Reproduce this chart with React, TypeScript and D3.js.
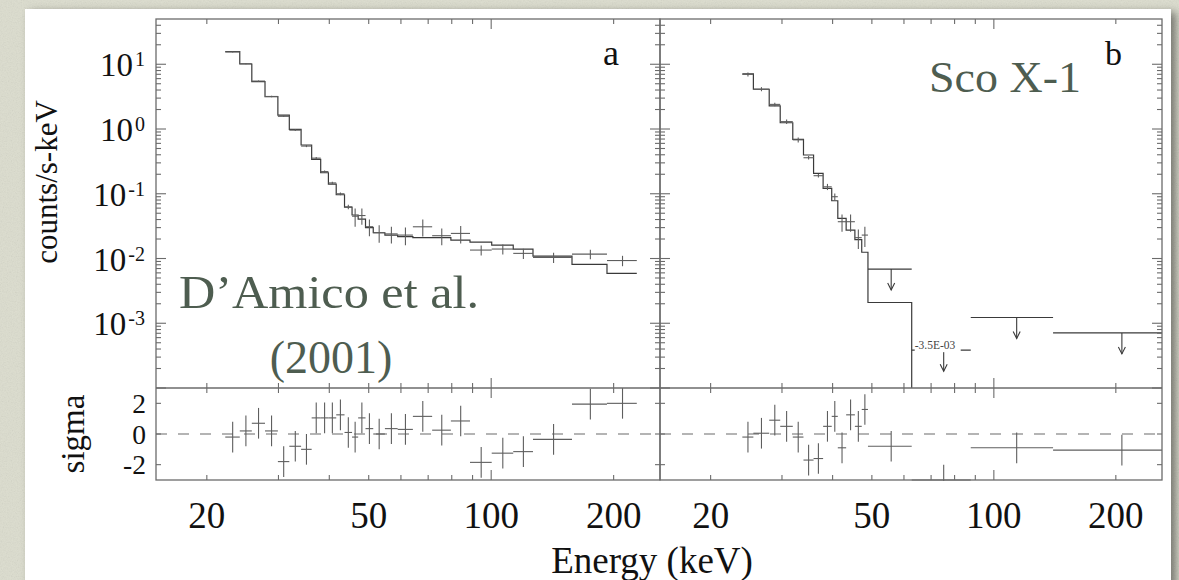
import React from "react";
import * as d3 from "d3";

// ---------------- Panel a (D'Amico et al. 2001) ----------------
const binEdgesA = [22.2, 24.1, 25.8, 27.8, 29.9, 31.9, 34.1, 36.2, 38.1, 39.8, 41.6, 43.6, 45.5, 47.1, 49.1, 51.3, 54.8, 58.9, 64.2, 71.6, 79.6, 88.7, 100.3, 113.3, 126.7, 158, 192.6, 228];
const modelA = [15.7, 10.1, 5.38, 3.16, 1.64, 0.99, 0.566, 0.34, 0.211, 0.141, 0.0966, 0.062, 0.047, 0.0406, 0.03, 0.025, 0.023, 0.0218, 0.021, 0.021, 0.0192, 0.0179, 0.0161, 0.014, 0.0109, 0.0081, 0.0059];
const countsA = [15.5, 10.2, 5.5, 3.18, 1.57, 0.96, 0.545, 0.355, 0.22, 0.147, 0.1, 0.0625, 0.045, 0.0461, 0.031, 0.025, 0.024, 0.023, 0.0309, 0.0225, 0.0244, 0.0135, 0.014, 0.012, 0.0104, 0.0117, 0.0093];
const errorsA = [0.3, 0.2, 0.12, 0.08, 0.04, 0.03, 0.02, 0.014, 0.009, 0.006, 0.005, 0.005, 0.014, 0.013, 0.009, 0.0075, 0.007, 0.007, 0.009, 0.0065, 0.0073, 0.0024, 0.0025, 0.0022, 0.0019, 0.002, 0.0017];
const sigmaA = [-0.2, 0.2, 0.7, 0.2, -1.8, -0.8, -1.0, 1.05, 1.05, 1.05, 1.25, 0.1, -0.2, 1.05, 0.35, 0.0, 0.35, 0.3, 1.15, 0.25, 0.85, -1.85, -1.25, -1.15, -0.35, 1.95, 2.0];

// ---------------- Panel b (Sco X-1) ----------------
const binEdgesB = [23.95, 25.5, 27.9, 29.7, 31.9, 33.9, 35.9, 37.9, 39.8, 41.2, 43.2, 45.4, 47.2, 48.9, 62.7, 87.7, 140, 274];
const modelB = [7.08, 4.11, 2.27, 1.25, 0.693, 0.397, 0.207, 0.121, 0.078, 0.0417, 0.0275, 0.0195, 0.0125, 0.00209, 0.00001, 0.00001, 0.00001];
const countsB = [6.98, 4.13, 2.4, 1.3, 0.68, 0.36, 0.19, 0.128, 0.09, 0.037, 0.037, 0.021, 0.023];
const errorsB = [0.5, 0.3, 0.15, 0.1, 0.06, 0.022, 0.012, 0.014, 0.011, 0.011, 0.011, 0.007, 0.008];
const upperLimitsB = [0.00686, 0.000384, 0.00123, 0.00071];
const upperLimitNotesB = ["", "-3.5E-03", "", ""];
const sigmaB = [-0.2, 0.05, 0.9, 0.5, -0.2, -1.7, -1.6, 0.5, 1.15, -0.9, 1.25, 0.5, 1.6, -0.8, -3.0, -0.9, -1.05];

// ---------------- Axes ----------------
const energyDomain = [15, 260];
const countDomain = [1e-4, 50];
const sigmaDomain = [-3, 3];
const energyTicks = [20, 30, 40, 50, 60, 70, 80, 90, 100, 200];
const energyMajorTicks = [100];
const energyTickLabels = [20, 50, 100, 200];
const decadeExponents = [1, 0, -1, -2, -3];
const sigmaTicks = [2, 0, -2];
const panelLetters = ["a", "b"];
const annotationA = ["D\u2019Amico et al.", "(2001)"];
const annotationB = "Sco X-1";
const yTitle = "counts/s-keV";
const residTitle = "sigma";
const xTitle = "Energy (keV)";

const SERIF = "'Liberation Serif', 'Times New Roman', Times, serif";
const FRAME = "#6b6b6b";
const MODEL = "#3a3a3a";
const DATA = "#5e5e5e";
const ANNOT = "#4e5d50";

export default function App() {
  const W = 1179, H = 580;
  const top = 19, mid = 388, bot = 480;
  const y = d3.scaleLog().domain(countDomain).range([mid, top]);
  const yr = d3.scaleLinear().domain(sigmaDomain).range([bot, mid]);

  const minorY: number[] = [];
  for (let k = -4; k <= 1; k++) for (let m = 2; m <= 9; m++) {
    const v = m * Math.pow(10, k);
    if (v > countDomain[0] && v < countDomain[1]) minorY.push(v);
  }
  const majorY = [1e-4, 1e-3, 1e-2, 1e-1, 1, 10];

  const panels = [
    { key: "a", x0: 156, x1: 660, edges: binEdgesA, model: modelA, counts: countsA, errors: errorsA, uls: [] as number[], notes: [] as string[], sigma: sigmaA },
    { key: "b", x0: 660, x1: 1162, edges: binEdgesB, model: modelB, counts: countsB, errors: errorsB, uls: upperLimitsB, notes: upperLimitNotesB, sigma: sigmaB },
  ];

  const renderPanel = (p: typeof panels[0], pi: number) => {
    const x = d3.scaleLog().domain(energyDomain).range([p.x0, p.x1]);
    const n = p.model.length;
    const pts: [number, number][] = p.model.map((m, i) => [p.edges[i], m]);
    pts.push([p.edges[n], p.model[n - 1]]);
    const step = d3.line<[number, number]>().x(d => x(d[0])).y(d => y(d[1])).curve(d3.curveStepAfter)(pts) || "";
    const center = (i: number) => x((p.edges[i] + p.edges[i + 1]) / 2);
    const tickEls: JSX.Element[] = [];
    energyTicks.forEach((t, i) => {
      const L = energyMajorTicks.includes(t) ? 10 : 5;
      const xx = x(t);
      tickEls.push(<line key={`xt${i}a`} x1={xx} x2={xx} y1={top} y2={top + L} />);
      tickEls.push(<line key={`xt${i}b`} x1={xx} x2={xx} y1={mid} y2={mid - L} />);
      tickEls.push(<line key={`xt${i}c`} x1={xx} x2={xx} y1={mid} y2={mid + L} />);
      tickEls.push(<line key={`xt${i}d`} x1={xx} x2={xx} y1={bot} y2={bot - L} />);
    });
    majorY.concat(minorY).forEach((v, i) => {
      const L = majorY.includes(v) ? 10 : 5;
      const yy = y(v);
      tickEls.push(<line key={`yt${i}a`} x1={p.x0} x2={p.x0 + L} y1={yy} y2={yy} />);
      tickEls.push(<line key={`yt${i}b`} x1={p.x1} x2={p.x1 - L} y1={yy} y2={yy} />);
    });
    sigmaTicks.forEach((v, i) => {
      const yy = yr(v);
      tickEls.push(<line key={`st${i}a`} x1={p.x0} x2={p.x0 + 5} y1={yy} y2={yy} />);
      tickEls.push(<line key={`st${i}b`} x1={p.x1} x2={p.x1 - 5} y1={yy} y2={yy} />);
    });
    const nd = p.counts.length;
    return (
      <g key={p.key}>
        <defs>
          <clipPath id={`clipM${pi}`}><rect x={p.x0} y={top} width={p.x1 - p.x0} height={mid - top} /></clipPath>
          <clipPath id={`clipR${pi}`}><rect x={p.x0} y={mid} width={p.x1 - p.x0} height={bot - mid + 1} /></clipPath>
        </defs>
        <line x1={p.x0} x2={p.x1} y1={yr(0)} y2={yr(0)} stroke={FRAME} strokeWidth={1.1} strokeDasharray="11,11" />
        <g clipPath={`url(#clipM${pi})`}>
          <path d={step} fill="none" stroke={MODEL} strokeWidth={1.2} />
          {p.counts.map((c, i) => (
            <g key={`d${i}`} stroke={DATA} strokeWidth={1.1}>
              <line x1={x(p.edges[i])} x2={x(p.edges[i + 1])} y1={y(c)} y2={y(c)} />
              <line x1={center(i)} x2={center(i)} y1={y(Math.max(c - p.errors[i], 1e-6))} y2={y(c + p.errors[i])} />
            </g>
          ))}
          {p.uls.map((u, j) => {
            const i = nd + j;
            const xa = x(p.edges[i]), xb = x(p.edges[i + 1]);
            const xc = center(i), yu = y(u);
            return (
              <g key={`ul${j}`} stroke={MODEL} strokeWidth={1.1} fill="none">
                <line x1={xa} x2={xb} y1={yu} y2={yu} />
                <line x1={xc} x2={xc} y1={yu} y2={yu + 21} />
                <polyline points={`${xc - 3.5},${yu + 14} ${xc},${yu + 21} ${xc + 3.5},${yu + 14}`} />
                {p.notes[j] ? (
                  <g>
                    <rect x={xa + 3} y={yu - 11} width={46} height={13} fill="#fff" stroke="none" />
                    <text x={xa + 3} y={yu - 1} fontFamily={SERIF} fontSize={11.5} fill="#444" stroke="none">{p.notes[j]}</text>
                  </g>
                ) : null}
              </g>
            );
          })}
        </g>
        <g clipPath={`url(#clipR${pi})`}>
          {p.sigma.map((s, i) => (
            <g key={`r${i}`} stroke={DATA} strokeWidth={1.1}>
              <line x1={x(p.edges[i])} x2={x(p.edges[i + 1])} y1={yr(s)} y2={yr(s)} />
              <line x1={center(i)} x2={center(i)} y1={yr(s - 1)} y2={yr(s + 1)} />
            </g>
          ))}
        </g>
        <g stroke={FRAME} strokeWidth={1.1}>{tickEls}</g>
        <rect x={p.x0} y={top} width={p.x1 - p.x0} height={bot - top} fill="none" stroke={FRAME} strokeWidth={1.3} />
        <line x1={p.x0} x2={p.x1} y1={mid} y2={mid} stroke={FRAME} strokeWidth={1.3} />
        {energyTickLabels.map(t => (
          <text key={`xl${t}`} x={x(t)} y={528} textAnchor="middle" fontFamily={SERIF} fontSize={37} fill="#111">{t}</text>
        ))}
      </g>
    );
  };

  return (
    <svg width={W} height={H} style={{ position: "absolute", left: 0, top: 0 }} xmlns="http://www.w3.org/2000/svg">
      <defs>
        <filter id="noise" x="0" y="0" width="100%" height="100%">
          <feTurbulence type="fractalNoise" baseFrequency="0.8" numOctaves={2} seed={4} />
          <feColorMatrix type="saturate" values="0" />
          <feComponentTransfer>
            <feFuncA type="table" tableValues="0 0.2" />
          </feComponentTransfer>
        </filter>
        <filter id="shadow" x="-5%" y="-5%" width="110%" height="110%">
          <feDropShadow dx={5} dy={3} stdDeviation={4} floodColor="#000" floodOpacity={0.45} />
        </filter>
      </defs>
      <rect x={0} y={0} width={W} height={H} fill="#dcddce" />
      <rect x={0} y={0} width={W} height={H} filter="url(#noise)" />
      <rect x={25} y={9} width={1146} height={640} fill="#fff" filter="url(#shadow)" />
      {panels.map(renderPanel)}
      {decadeExponents.map(k => (
        <text key={`yl${k}`} x={145} y={y(Math.pow(10, k)) + 12} textAnchor="end" fontFamily={SERIF} fontSize={33} fill="#111">
          10<tspan fontSize={20} dx={2} dy={-10}>{k}</tspan>
        </text>
      ))}
      {sigmaTicks.map(v => (
        <text key={`sl${v}`} x={146} y={yr(v) + 9.5} textAnchor="end" fontFamily={SERIF} fontSize={27.5} fill="#111">{v}</text>
      ))}
      <text transform="translate(57,182) rotate(-90)" textAnchor="middle" fontFamily={SERIF} fontSize={31} fill="#111">{yTitle}</text>
      <text transform="translate(84,434) rotate(-90)" textAnchor="middle" fontFamily={SERIF} fontSize={33} fill="#111">{residTitle}</text>
      <text x={652} y={573} textAnchor="middle" fontFamily={SERIF} fontSize={37} fill="#111">{xTitle}</text>
      <text x={603} y={65} fontFamily={SERIF} fontSize={36} fill="#111">{panelLetters[0]}</text>
      <text x={1105} y={65} fontFamily={SERIF} fontSize={34} fill="#111">{panelLetters[1]}</text>
      <text x={179} y={308} fontFamily={SERIF} fontSize={46} fill={ANNOT} textLength={300} lengthAdjust="spacingAndGlyphs">{annotationA[0]}</text>
      <text x={331} y={373} textAnchor="middle" fontFamily={SERIF} fontSize={46} fill={ANNOT}>{annotationA[1]}</text>
      <text x={929} y={92} fontFamily={SERIF} fontSize={44} fill={ANNOT} textLength={152} lengthAdjust="spacingAndGlyphs">{annotationB}</text>
    </svg>
  );
}
